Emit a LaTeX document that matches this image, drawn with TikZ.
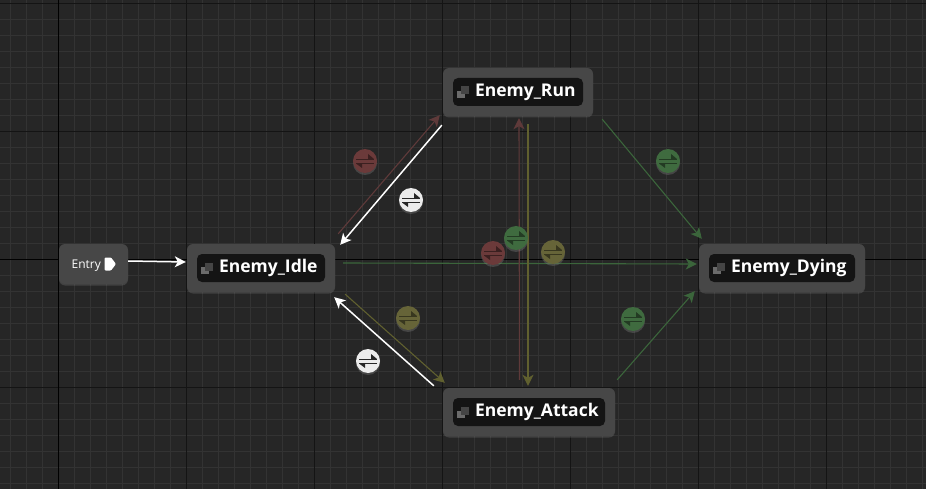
\documentclass[tikz,border=0pt]{standalone}
\usepackage{fontspec}
\setmainfont{Open Sans}
\usetikzlibrary{arrows.meta,shadows}
\definecolor{bg}{HTML}{262626}
\definecolor{gridminor}{HTML}{333333}
\definecolor{gridmajor}{HTML}{141414}
\definecolor{boxfill}{HTML}{474747}
\definecolor{platefill}{HTML}{141414}
\definecolor{redline}{HTML}{5F3A3A}
\definecolor{greenline}{HTML}{3B653B}
\definecolor{oliveline}{HTML}{60602F}
\definecolor{redfill}{HTML}{6B3A3A}
\definecolor{greenfill}{HTML}{3F6B3F}
\definecolor{olivefill}{HTML}{666438}
\definecolor{whitefill}{HTML}{EBEBEB}
\tikzset{
  tip/.style={-{Stealth[length=11pt,width=11pt,inset=3pt]}},
  wire/.style={tip,line width=1.1pt},
  whitewire/.style={tip,line width=1.5pt,white},
  statebox/.style={fill=boxfill,rounded corners=6pt,minimum height=48pt,inner sep=0pt,
    drop shadow={shadow xshift=0pt,shadow yshift=-1.5pt,opacity=.3}},
  stateplate/.style={fill=platefill,rounded corners=5pt,minimum height=28pt,inner sep=0pt},
  statetitle/.style={text=white,inner sep=0pt,anchor=base west,font=\fontsize{17.5}{17.5}\selectfont\bfseries},
  rule/.style={circle,minimum size=24pt,inner sep=0pt,
    drop shadow={shadow xshift=0pt,shadow yshift=-2pt,opacity=.35}},
  swapsign/.pic={
    \draw[line width=.8pt,#1] (-9,-2)--(9,-2) (9,2.5)--(-9,2.5);
    \fill[#1] (9,-2)--(3,-2)--(3,-7)--cycle (-9,2.5)--(-3,2.5)--(-3,7)--cycle;
  }
}
\begin{document}
\begin{tikzpicture}[x=1pt,y=-1pt]
\useasboundingbox (0,0) rectangle (926,489);
\fill[bg] (0,0) rectangle (926,489);

\foreach \i in {0,...,57}
   {
	\draw[gridminor,line width=1pt] (10.5+16*\i,0)--(10.5+16*\i,489);
   };
\foreach \i in {0,...,30}
   {
	\draw[gridminor,line width=1pt] (0,3.5+16*\i)--(926,3.5+16*\i);
   };
\foreach \i in {1,...,6}
   {
	\draw[gridmajor,line width=1pt] (58.5+128*\i,0)--(58.5+128*\i,489);
   };
\foreach \i in {3.5,131.5,387.5}
   {
	\draw[gridmajor,line width=1pt] (0,\i)--(926,\i);
   };
\draw[black,line width=1.3pt] (58.5,0)--(58.5,489);
\draw[black,line width=1.3pt] (0,259.5)--(926,259.5);

\node[statebox,minimum width=69pt,minimum height=40pt] (entry) at (93.5,264) {};
\node[text=white,inner sep=0pt,anchor=base west,font=\fontsize{12}{12}\selectfont] (entrytext) at (71.5,268.3) {Entry};
\fill[white,rounded corners=1pt] (104.5,257.5)--(111,257.5)--(116,264)--(111,270.5)--(104.5,270.5)--cycle;

\foreach \n/\x/\y/\w/\t in {idle/261/268/148/Enemy\_Idle,run/518/92/150/Enemy\_Run,attack/529/412/172/Enemy\_Attack,dying/782/268/166/Enemy\_Dying}
   {
	\node[statebox,minimum width=\w pt] (\n) at (\x,\y) {};
	\node[stateplate,minimum width=\w pt-20pt] (\n plate) at (\x,\y) {};
	\node[statetitle] (\n title) at ([shift={(22,4.7)}]\n plate.west) {\t};
	\fill[white!42!black] ([shift={(4,-1)}]\n plate.west) rectangle +(8,7);
	\fill[white!27!black] ([shift={(8,-5.5)}]\n plate.west) rectangle +(8,8);
   };

\draw[whitewire] ([shift={(0,-3)}]entry.east)--([shift={(-1,-6)}]idle.west);
\draw[wire,redline] ([shift={(3,-10)}]idle.north east)--([shift={(-3,-1)}]run.south west);
\draw[whitewire] ([shift={(-1,9)}]run.south west)--([shift={(5,1)}]idle.north east);
\draw[wire,oliveline] ([shift={(10,2)}]idle.south east)--([shift={(2,-5)}]attack.north west);
\draw[whitewire] ([shift={(-9,-2)}]attack.north west)--([shift={(-1,5)}]idle.south east);
\draw[wire,greenline] ([shift={(8,-5)}]idle.east)--([shift={(-2,-4)}]dying.west);
\draw[wire,greenline] ([shift={(9,3)}]run.south east)--([shift={(3,-5)}]dying.north west);
\draw[wire,greenline] ([shift={(2,-8)}]attack.north east)--([shift={(-4,-1)}]dying.south west);
\draw[wire,redline] ([shift={(-9.5,-8)}]attack.north)--([shift={(1,2)}]run.south);
\draw[wire,oliveline] ([shift={(10,8)}]run.south)--([shift={(-1,-2)}]attack.north);

\foreach \n/\x/\y/\c/\s in {a/365/161/redfill/redfill!55!black,b/411/200/whitefill/bg,c/408/318/olivefill/olivefill!55!black,d/368/361/whitefill/bg,e/668/161/greenfill/greenfill!55!black,f/633/319/greenfill/greenfill!55!black,g/493/253/redfill/redfill!55!black,h/516/238/greenfill/greenfill!55!black,i/553/252/olivefill/olivefill!55!black}
   {
	\node[rule,fill=\c] (\n) at (\x,\y) {};
	\pic at (\n.center) {swapsign=\s};
   };
\end{tikzpicture}
\end{document}
